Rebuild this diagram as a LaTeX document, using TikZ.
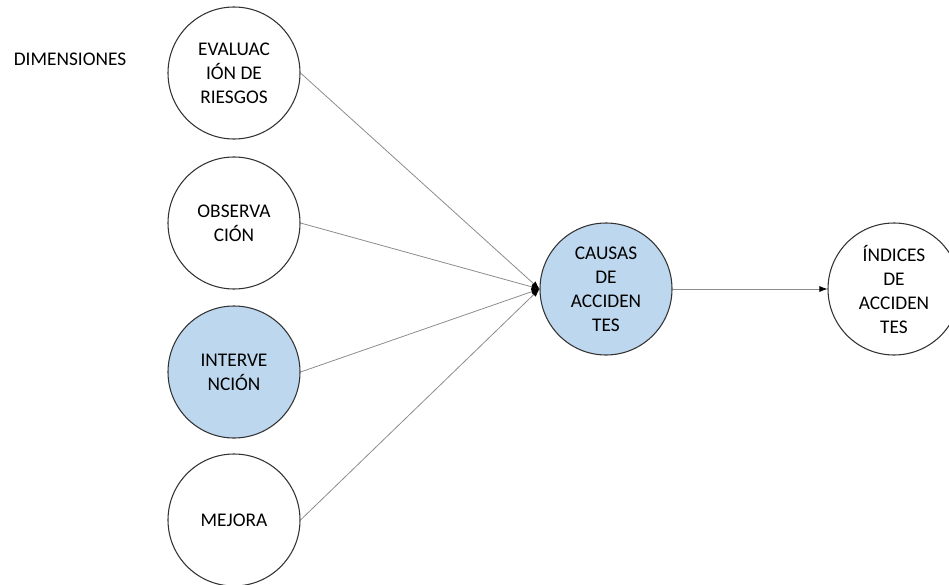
\documentclass[tikz,border=0pt]{standalone}
\usepackage{fontspec}
\setmainfont{Carlito}
\usepackage{xcolor}
\usetikzlibrary{arrows.meta}
\definecolor{azulclaro}{RGB}{189,215,238}

\begin{document}
\begin{tikzpicture}[x=0.75pt,y=-0.75pt,
        dim/.style={circle,draw=black!80,line width=0.8pt,minimum size=99pt,inner sep=0pt,align=center,font=\fontsize{14.5}{18}\selectfont},
        lleno/.style={dim,fill=azulclaro},
        flecha/.style={draw=black!45,line width=0.6pt,-{Latex[length=6pt,width=4.5pt,black]}}]
            \useasboundingbox (0,0) rectangle (949,585);
            \node[font=\fontsize{14.5}{18}\selectfont] (titulo) at (70,59){DIMENSIONES};

            \node[dim] (evaluacion) at (234,73){EVALUAC\\IÓN DE\\RIESGOS};
            \node[dim] (observacion) at (234,223){OBSERVA\\CIÓN};
            \node[lleno] (intervencion) at (234,372){INTERVE\\NCIÓN};
            \node[dim] (mejora) at (234,520){MEJORA};

            \node[lleno] (causas) at (606,289){CAUSAS\\DE\\ACCIDEN\\TES};
            \node[dim] (indices) at (894,289){ÍNDICES\\DE\\ACCIDEN\\TES};

            \draw[flecha] (evaluacion.east)--(causas.west);
            \draw[flecha] (observacion.east)--(causas.west);
            \draw[flecha] (intervencion.east)--(causas.west);
            \draw[flecha] (mejora.east)--(causas.west);
            \draw[flecha] (causas.east)--(indices.west);
        \end{tikzpicture}
\end{document}
